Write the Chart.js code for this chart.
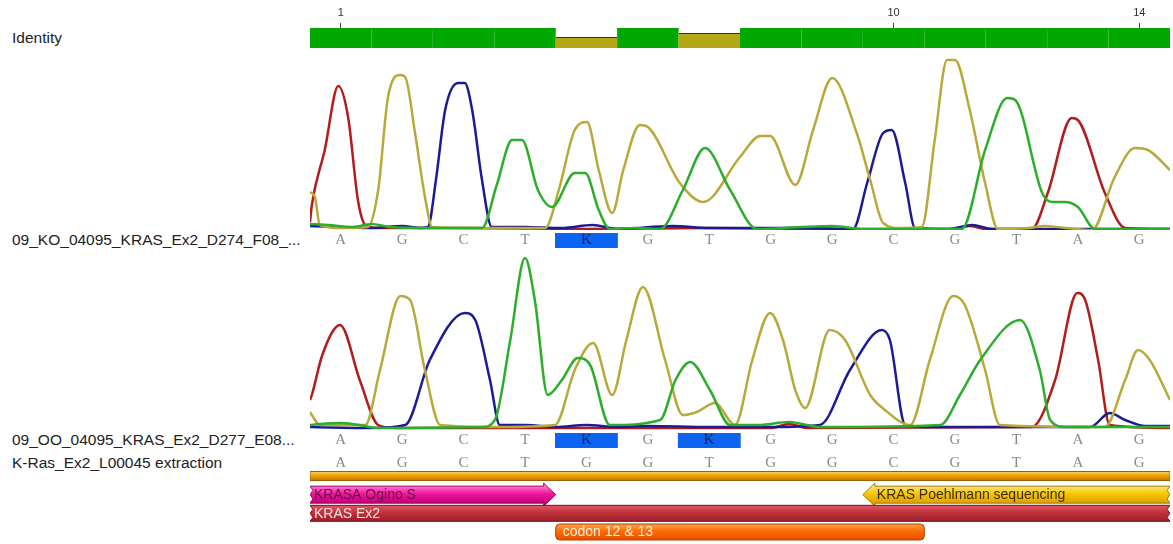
<!DOCTYPE html>
<html>
<head>
<meta charset="utf-8">
<script src="https://cdn.jsdelivr.net/npm/chart.js@4.4.1/dist/chart.umd.min.js"></script>
<style>
  body { margin: 0; background: #fff; width: 1173px; height: 544px; position: relative; overflow: hidden;
         font-family: "Liberation Sans", Arial, sans-serif; }
  .lbl { position: absolute; left: 12px; font-size: 15.5px; line-height: 16px; color: #222; white-space: nowrap; }
  canvas { position: absolute; left: 310px; }
</style>
</head>
<body>
<div class="lbl" style="top:30px">Identity</div>
<div class="lbl" style="top:232px">09_KO_04095_KRAS_Ex2_D274_F08_...</div>
<div class="lbl" style="top:432px">09_OO_04095_KRAS_Ex2_D277_E08...</div>
<div class="lbl" style="top:455px">K-Ras_Ex2_L00045 extraction</div>

<canvas id="identity" width="860" height="48" style="top:0"></canvas>
<canvas id="trace1" width="860" height="197" style="top:55px"></canvas>
<canvas id="trace2" width="860" height="197" style="top:255px"></canvas>
<canvas id="annot" width="860" height="95" style="top:449px"></canvas>

<script>
// positions in the alignment
const positions = [1, 2, 3, 4, 5, 6, 7, 8, 9, 10, 11, 12, 13, 14];
const identity = [100, 100, 100, 100, 50, 100, 70, 100, 100, 100, 100, 100, 100, 100];
const rulerTicks = [1, 10, 14];

// base calls
const calls1 = ["A", "G", "C", "T", "K", "G", "T", "G", "G", "C", "G", "T", "A", "G"];
const calls2 = ["A", "G", "C", "T", "K", "G", "K", "G", "G", "C", "G", "T", "A", "G"];
const reference = ["A", "G", "C", "T", "G", "G", "T", "G", "G", "C", "G", "T", "A", "G"];

// trace 1 (09_KO...) : [position, signal]
const trace1A = [[0.5, 8], [0.53, 25], [0.74, 80], [0.96, 144], [1.12, 113], [1.28, 30], [1.4, 5], [1.6, 2], [3.0, 2], [5.0, 1], [7.0, 2], [9.0, 1], [11.0, 1], [11.24, 4], [11.5, 1], [12.25, 1], [12.51, 37], [12.9, 112], [13.0, 110], [13.44, 37], [13.77, 2], [14.5, 1]];
const trace1G = [[0.5, 38], [0.58, 33], [0.66, 5], [1.0, 2], [1.44, 3], [1.61, 40], [1.77, 133], [1.97, 155], [2.05, 153], [2.21, 97], [2.38, 30], [2.49, 3], [3.0, 2], [4.0, 2], [4.33, 2], [4.55, 40], [4.81, 100], [5.01, 108], [5.2, 60], [5.42, 17], [5.6, 60], [5.87, 105], [6.0, 103], [6.52, 47], [6.9, 28], [7.5, 73], [7.83, 94], [7.99, 94], [8.4, 45], [8.69, 100], [9.0, 152], [9.4, 97], [9.62, 50], [9.83, 7], [10.1, 2], [10.46, 3], [10.67, 90], [10.87, 170], [11.0, 170], [11.24, 120], [11.49, 47], [11.7, 1], [12.2, 2], [12.46, 4], [12.8, 2], [13.23, 0], [13.6, 53], [13.93, 82], [14.14, 80], [14.5, 60]];
const trace1C = [[0.5, 4], [1.0, 3], [1.5, 2], [2.0, 4], [2.3, 2], [2.42, 3], [2.55, 50], [2.7, 120], [2.91, 147], [3.02, 147], [3.14, 120], [3.3, 50], [3.46, 3], [4.0, 3], [4.6, 2], [5.1, 5], [5.5, 1], [6.4, 4], [7.0, 2], [8.5, 2], [9.34, 1], [9.57, 47], [9.83, 97], [9.97, 100], [10.19, 47], [10.35, 2], [10.9, 1], [11.28, 5], [11.6, 1], [14.5, 1]];
const trace1T = [[0.5, 6], [0.8, 5], [1.2, 3], [1.5, 6], [1.8, 3], [2.5, 2], [3.0, 2], [3.3, 2], [3.54, 45], [3.79, 90], [3.95, 90], [4.21, 40], [4.44, 23], [4.81, 57], [4.98, 57], [5.2, 20], [5.38, 1], [5.8, 2], [6.2, 1], [6.57, 40], [6.93, 82], [7.34, 40], [7.78, 1], [8.5, 3], [9.0, 4], [9.5, 1], [11.11, 1], [11.49, 80], [11.85, 132], [11.98, 130], [12.42, 37], [12.58, 28], [12.79, 28], [13.0, 23], [13.28, 1], [14.5, 1]];

// trace 2 (09_OO...)
const trace2A = [[0.5, 30], [0.53, 35], [0.7, 75], [0.99, 105], [1.31, 50], [1.61, 5], [1.9, 2], [5.0, 2], [8.0, 2], [8.3, 6], [8.6, 2], [12.25, 3], [12.63, 50], [12.99, 137], [13.12, 130], [13.33, 70], [13.52, 5], [14.5, 2]];
const trace2G = [[0.5, 18], [0.53, 15], [0.66, 5], [1.4, 5], [1.64, 60], [1.97, 134], [2.13, 130], [2.37, 60], [2.62, 5], [3.5, 3], [4.49, 5], [4.81, 60], [5.11, 87], [5.42, 35], [5.65, 90], [5.92, 143], [6.28, 70], [6.57, 15], [6.8, 18], [7.09, 27], [7.42, 5], [7.7, 70], [7.99, 117], [8.2, 90], [8.4, 40], [8.56, 22], [8.96, 100], [9.21, 90], [9.62, 35], [9.86, 20], [10.27, 5], [10.59, 70], [10.97, 134], [11.16, 125], [11.49, 60], [11.73, 5], [13.44, 3], [13.77, 50], [13.98, 80], [14.17, 70], [14.5, 30]];
const trace2C = [[0.5, 3], [1.5, 2], [2.05, 5], [2.45, 70], [3.02, 117], [3.19, 110], [3.43, 50], [3.59, 5], [4.0, 5], [4.5, 3], [5.0, 5], [5.5, 3], [6.0, 4], [7.0, 3], [8.0, 3], [8.8, 5], [9.29, 60], [9.81, 100], [9.94, 90], [10.19, 5], [10.6, 3], [13.2, 3], [13.52, 17], [13.77, 10], [14.1, 4], [14.5, 4]];
const trace2T = [[0.5, 5], [0.66, 6], [1.0, 7], [1.3, 5], [1.6, 2], [3.3, 3], [3.51, 10], [3.76, 90], [4.0, 172], [4.16, 130], [4.37, 35], [4.6, 50], [4.86, 72], [5.06, 65], [5.38, 5], [6.2, 10], [6.45, 50], [6.69, 68], [7.01, 40], [7.34, 5], [7.8, 5], [8.3, 8], [8.8, 3], [10.76, 5], [11.08, 35], [11.41, 70], [12.06, 110], [12.38, 60], [12.55, 10], [12.8, 3], [14.5, 3]];

// annotations
const annotNames = ["extraction", "KRASA Ogino S", "KRAS Poehlmann sequencing", "KRAS Ex2", "codon 12 & 13"];
const annotStart = [0.5, 0.5, 9.5, 0.5, 4.5];
const annotEnd = [14.5, 4.5, 14.5, 14.5, 10.5];
const annotRow = [0, 1, 1, 2, 3];

const baseColors = { A: "#b21c1c", C: "#1b1b95", G: "#b7a93a", T: "#2cae2c" };
const annotStyles = [
  { shape: "bar", thick: 9, light: "#ffd36a", mid: "#f2a300", dark: "#c07a00", stroke: "#9a6200", text: null },
  { shape: "right", thick: 17, light: "#ff78cc", mid: "#f0169c", dark: "#c2007a", stroke: "#9e0062", text: "#6e0a46", tornLeft: true },
  { shape: "left", thick: 17, light: "#ffe57a", mid: "#f8c600", dark: "#d9a200", stroke: "#a37a00", text: "#3a2a00" },
  { shape: "bar", thick: 16, light: "#dc5a62", mid: "#c3313b", dark: "#97202a", stroke: "#7a1018", text: "#ffe4e4", tornLeft: true, tornRight: true },
  { shape: "round", thick: 16, light: "#ffa24a", mid: "#ff6c00", dark: "#e25000", stroke: "#b54000", text: "#fff2e4" },
];

const noInteraction = { responsive: false, animation: false, events: [] };
const flatTicks = (scale) => { scale.ticks = positions.map((v) => ({ value: v })); };

// identity ruler
new Chart(document.getElementById("identity"), {
  type: "bar",
  data: {
    labels: positions.map(String),
    datasets: [{
      data: identity,
      backgroundColor: identity.map((v) => (v === 100 ? "#00a800" : "#b4a814")),
      borderColor: "#333",
      borderWidth: { top: 1, left: 0, right: 0, bottom: 0 },
      barPercentage: 1,
      categoryPercentage: 1,
      inflateAmount: 1,
    }],
  },
  options: {
    ...noInteraction,
    plugins: { legend: { display: false }, tooltip: { enabled: false } },
    scales: {
      x: {
        position: "top",
        grid: {
          offset: false, drawOnChartArea: false, tickLength: 5,
          color: (ctx) => (rulerTicks.includes(positions[ctx.index]) ? "#444" : "rgba(0,0,0,0)"),
        },
        border: { display: false },
        ticks: {
          autoSkip: false, maxRotation: 0, padding: 3, color: "#333",
          font: { family: "Liberation Sans", size: 11 },
          callback: (v, i) => (rulerTicks.includes(positions[i]) ? String(positions[i]) : ""),
        },
        afterFit: (s) => { s.height = 28; },
      },
      y: { display: false, min: 0, max: 100 },
    },
  },
});

function traceChart(id, traces, calls) {
  new Chart(document.getElementById(id), {
    type: "line",
    data: {
      datasets: [
        { label: "T", data: traces.T, borderColor: baseColors.T },
        { label: "G", data: traces.G, borderColor: baseColors.G },
        { label: "C", data: traces.C, borderColor: baseColors.C },
        { label: "A", data: traces.A, borderColor: baseColors.A },
      ],
    },
    options: {
      ...noInteraction,
      elements: {
        point: { radius: 0 },
        line: { borderWidth: 2.5, cubicInterpolationMode: "monotone", fill: false },
      },
      plugins: { legend: { display: false }, tooltip: { enabled: false } },
      scales: {
        x: {
          type: "linear", min: 0.5, max: 14.5,
          afterBuildTicks: flatTicks,
          grid: { display: false, drawTicks: false },
          border: { display: false },
          ticks: {
            autoSkip: false, maxRotation: 0, padding: 3,
            font: { family: "Liberation Serif", size: 15, lineHeight: 1 },
            color: (ctx) => (calls[ctx.index] === "K" ? "#14245c" : "#8a8a8a"),
            callback: (v, i) => calls[i],
            showLabelBackdrop: true,
            backdropColor: (ctx) => (calls[ctx.index] === "K" ? "#0a64f0" : "rgba(0,0,0,0)"),
            backdropPadding: { top: 0, bottom: 0, left: 26, right: 26 },
          },
          afterFit: (s) => { s.height = 22; },
        },
        y: { display: false, min: 0, max: 175 },
      },
    },
  });
}

traceChart("trace1", { A: trace1A, C: trace1C, G: trace1G, T: trace1T }, calls1);
traceChart("trace2", { A: trace2A, C: trace2C, G: trace2G, T: trace2T }, calls2);

// annotation shapes drawn on the bar elements' geometry
function annotPath(c, x0, x1, yc, h, st) {
  const t = yc - h / 2, b = yc + h / 2, head = 12, flare = 3, z = 3;
  c.beginPath();
  if (st.shape === "round") {
    c.roundRect(x0, t, x1 - x0, h, 4);
    return;
  }
  if (st.shape === "right") {
    c.moveTo(x0, t);
    c.lineTo(x1 - head, t); c.lineTo(x1 - head, t - flare); c.lineTo(x1, yc);
    c.lineTo(x1 - head, b + flare); c.lineTo(x1 - head, b);
    c.lineTo(x0, b);
  } else if (st.shape === "left") {
    c.moveTo(x0, yc);
    c.lineTo(x0 + head, t - flare); c.lineTo(x0 + head, t); c.lineTo(x1, t);
    c.lineTo(x1 - z, t + h / 4); c.lineTo(x1, t + h / 2); c.lineTo(x1 - z, t + 3 * h / 4);
    c.lineTo(x1, b); c.lineTo(x0 + head, b); c.lineTo(x0 + head, b + flare);
  } else {
    c.moveTo(x0, t); c.lineTo(x1, t);
    if (st.tornRight) { c.lineTo(x1 - z, t + h / 4); c.lineTo(x1, t + h / 2); c.lineTo(x1 - z, t + 3 * h / 4); }
    c.lineTo(x1, b); c.lineTo(x0, b);
  }
  if (st.tornLeft) { c.lineTo(x0 + z, t + 3 * h / 4); c.lineTo(x0, t + h / 2); c.lineTo(x0 + z, t + h / 4); }
  c.closePath();
}

const annotPlugin = {
  id: "annotShapes",
  afterDatasetsDraw(chart) {
    const c = chart.ctx;
    c.save();
    chart.data.datasets.forEach((ds, i) => {
      const st = annotStyles[i];
      const el = chart.getDatasetMeta(i).data[annotRow[i]];
      if (!el) return;
      const x0 = Math.min(el.x, el.base), x1 = Math.max(el.x, el.base);
      const yc = el.y, h = el.height;
      const g = c.createLinearGradient(0, yc - h / 2, 0, yc + h / 2);
      g.addColorStop(0, st.light);
      g.addColorStop(0.45, st.mid);
      g.addColorStop(1, st.dark);
      annotPath(c, x0, x1, yc, h, st);
      c.fillStyle = g;
      c.fill();
      c.lineWidth = 1;
      c.strokeStyle = st.stroke;
      c.stroke();
      if (st.text) {
        c.fillStyle = st.text;
        c.font = "14px 'Liberation Sans', Arial, sans-serif";
        c.textBaseline = "middle";
        const tx = st.shape === "left" ? x0 + 14 : x0 + (st.shape === "round" ? 7 : 4);
        c.fillText(ds.label, tx, yc + 0.5);
      }
    });
    c.restore();
  },
};

new Chart(document.getElementById("annot"), {
  type: "bar",
  data: {
    labels: ["0", "1", "2", "3"],
    datasets: annotNames.map((name, i) => ({
      label: name,
      data: [0, 1, 2, 3].map((r) => (r === annotRow[i] ? [annotStart[i], annotEnd[i]] : null)),
      backgroundColor: "rgba(0,0,0,0)",
      borderWidth: 0,
      barThickness: annotStyles[i].thick,
      grouped: false,
      clip: false,
    })),
  },
  options: {
    ...noInteraction,
    indexAxis: "y",
    layout: { padding: { bottom: 12 } },
    plugins: { legend: { display: false }, tooltip: { enabled: false } },
    scales: {
      x: {
        type: "linear", position: "top", min: 0.5, max: 14.5,
        afterBuildTicks: flatTicks,
        grid: { display: false, drawTicks: false },
        border: { display: false },
        ticks: {
          autoSkip: false, maxRotation: 0, padding: 5.5, color: "#8a8a8a",
          font: { family: "Liberation Serif", size: 15, lineHeight: 1 },
          callback: (v, i) => reference[i],
        },
        afterFit: (s) => { s.height = 27; },
      },
      y: { display: false, offset: false },
    },
  },
  plugins: [annotPlugin],
});
</script>
</body>
</html>
